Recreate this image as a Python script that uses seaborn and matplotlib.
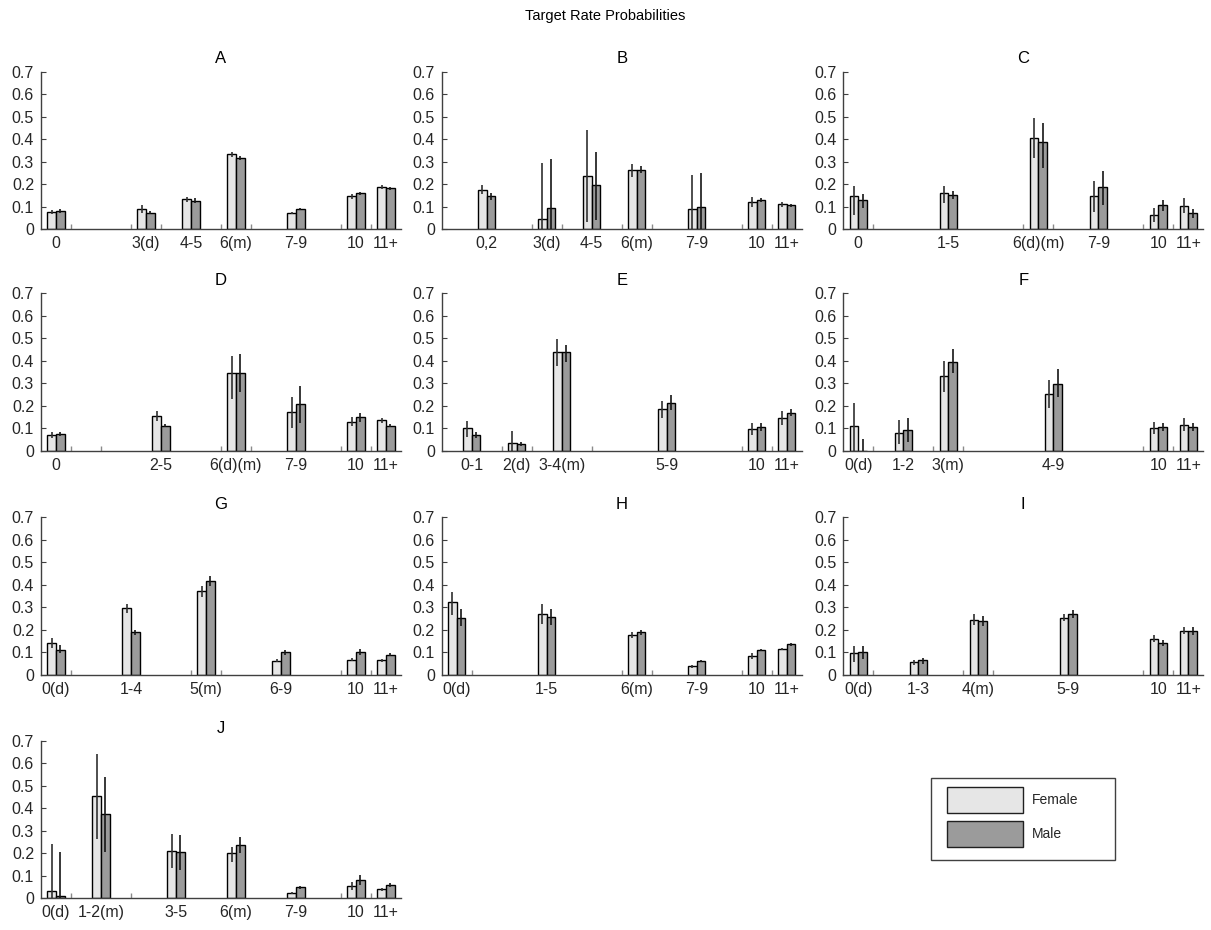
import numpy as np
import pandas as pd
import matplotlib
matplotlib.use("Agg")
import matplotlib.pyplot as plt
from matplotlib.patches import Patch, Rectangle
import seaborn as sns

# ---------------- data ----------------
panel_names = ["A", "B", "C", "D", "E", "F", "G", "H", "I", "J"]

labels_A = ["0", "3(d)", "4-5", "6(m)", "7-9", "10", "11+"]
pos_A = [0, 3, 4.5, 6, 8, 10, 11]
fem_A = [0.075, 0.089, 0.132, 0.332, 0.071, 0.145, 0.186]
fem_lo_A = [0.065, 0.072, 0.122, 0.322, 0.066, 0.135, 0.176]
fem_hi_A = [0.085, 0.106, 0.142, 0.342, 0.076, 0.155, 0.196]
male_A = [0.079, 0.073, 0.126, 0.316, 0.089, 0.158, 0.181]
male_lo_A = [0.071, 0.065, 0.116, 0.308, 0.084, 0.150, 0.173]
male_hi_A = [0.087, 0.081, 0.136, 0.324, 0.094, 0.166, 0.189]
edges_A = [0.5, 2.5, 3.5, 5.5, 6.5, 9.5, 10.5]

labels_B = ["0,2", "3(d)", "4-5", "6(m)", "7-9", "10", "11+"]
pos_B = [1, 3, 4.5, 6, 8, 10, 11]
fem_B = [0.174, 0.045, 0.237, 0.264, 0.088, 0.119, 0.110]
fem_lo_B = [0.154, 0.0, 0.033, 0.233, 0.0, 0.100, 0.098]
fem_hi_B = [0.194, 0.295, 0.440, 0.289, 0.240, 0.141, 0.122]
male_B = [0.145, 0.092, 0.194, 0.264, 0.096, 0.129, 0.105]
male_lo_B = [0.130, 0.0, 0.040, 0.248, 0.0, 0.121, 0.097]
male_hi_B = [0.160, 0.310, 0.341, 0.280, 0.250, 0.137, 0.113]
edges_B = [2.5, 3.5, 5.5, 6.5, 9.5, 10.5]

labels_C = ["0", "1-5", "6(d)(m)", "7-9", "10", "11+"]
pos_C = [0, 3, 6, 8, 10, 11]
fem_C = [0.147, 0.159, 0.407, 0.145, 0.062, 0.104]
fem_lo_C = [0.062, 0.114, 0.315, 0.074, 0.033, 0.070]
fem_hi_C = [0.193, 0.193, 0.496, 0.214, 0.092, 0.136]
male_C = [0.129, 0.153, 0.387, 0.188, 0.105, 0.071]
male_lo_C = [0.095, 0.132, 0.270, 0.108, 0.082, 0.050]
male_hi_C = [0.156, 0.171, 0.473, 0.260, 0.129, 0.090]
edges_C = [0.5, 5.5, 6.5, 9.5, 10.5]

labels_D = ["0", "2-5", "6(d)(m)", "7-9", "10", "11+"]
pos_D = [0, 3.5, 6, 8, 10, 11]
fem_D = [0.070, 0.154, 0.347, 0.171, 0.129, 0.134]
fem_lo_D = [0.058, 0.130, 0.228, 0.100, 0.111, 0.124]
fem_hi_D = [0.082, 0.174, 0.423, 0.240, 0.148, 0.144]
male_D = [0.074, 0.111, 0.347, 0.208, 0.148, 0.111]
male_lo_D = [0.066, 0.103, 0.260, 0.122, 0.129, 0.103]
male_hi_D = [0.082, 0.119, 0.430, 0.288, 0.166, 0.119]
edges_D = [0.5, 1.5, 5.5, 6.5, 9.5, 10.5]

labels_E = ["0-1", "2(d)", "3-4(m)", "5-9", "10", "11+"]
pos_E = [0.5, 2, 3.5, 7, 10, 11]
fem_E = [0.099, 0.035, 0.441, 0.185, 0.096, 0.144]
fem_lo_E = [0.062, 0.0, 0.377, 0.144, 0.070, 0.114]
fem_hi_E = [0.132, 0.085, 0.497, 0.222, 0.122, 0.174]
male_E = [0.070, 0.030, 0.441, 0.214, 0.107, 0.169]
male_lo_E = [0.058, 0.020, 0.396, 0.181, 0.085, 0.154]
male_hi_E = [0.082, 0.040, 0.470, 0.246, 0.125, 0.184]
edges_E = [1.5, 2.5, 4.5, 9.5, 10.5]

labels_F = ["0(d)", "1-2", "3(m)", "4-9", "10", "11+"]
pos_F = [0, 1.5, 3, 6.5, 10, 11]
fem_F = [0.111, 0.080, 0.334, 0.252, 0.102, 0.114]
fem_lo_F = [0.0, 0.030, 0.263, 0.188, 0.073, 0.089]
fem_hi_F = [0.214, 0.137, 0.400, 0.315, 0.129, 0.144]
male_F = [0.0, 0.092, 0.395, 0.297, 0.104, 0.104]
male_lo_F = [0.0, 0.040, 0.344, 0.240, 0.085, 0.085]
male_hi_F = [0.052, 0.144, 0.451, 0.362, 0.125, 0.122]
edges_F = [0.5, 2.5, 3.5, 9.5, 10.5]

labels_G = ["0(d)", "1-4", "5(m)", "6-9", "10", "11+"]
pos_G = [0, 2.5, 5, 7.5, 10, 11]
fem_G = [0.141, 0.297, 0.371, 0.062, 0.067, 0.064]
fem_lo_G = [0.119, 0.275, 0.346, 0.056, 0.061, 0.058]
fem_hi_G = [0.163, 0.316, 0.394, 0.068, 0.073, 0.070]
male_G = [0.111, 0.190, 0.416, 0.100, 0.101, 0.089]
male_lo_G = [0.094, 0.178, 0.394, 0.086, 0.086, 0.081]
male_hi_G = [0.131, 0.200, 0.438, 0.111, 0.116, 0.097]
edges_G = [0.5, 4.5, 5.5, 9.5, 10.5]

labels_H = ["0(d)", "1-5", "6(m)", "7-9", "10", "11+"]
pos_H = [0, 3, 6, 8, 10, 11]
fem_H = [0.321, 0.270, 0.178, 0.037, 0.082, 0.113]
fem_lo_H = [0.264, 0.227, 0.165, 0.031, 0.068, 0.108]
fem_hi_H = [0.368, 0.313, 0.190, 0.043, 0.094, 0.118]
male_H = [0.253, 0.257, 0.190, 0.061, 0.108, 0.134]
male_lo_H = [0.215, 0.220, 0.178, 0.057, 0.103, 0.129]
male_hi_H = [0.290, 0.294, 0.200, 0.065, 0.113, 0.139]
edges_H = [0.5, 5.5, 6.5, 9.5, 10.5]

labels_I = ["0(d)", "1-3", "4(m)", "5-9", "10", "11+"]
pos_I = [0, 2, 4, 7, 10, 11]
fem_I = [0.095, 0.055, 0.245, 0.254, 0.160, 0.195]
fem_lo_I = [0.056, 0.042, 0.220, 0.239, 0.146, 0.180]
fem_hi_I = [0.126, 0.067, 0.269, 0.269, 0.175, 0.212]
male_I = [0.101, 0.064, 0.238, 0.269, 0.141, 0.195]
male_lo_I = [0.071, 0.049, 0.215, 0.250, 0.126, 0.176]
male_hi_I = [0.126, 0.076, 0.260, 0.287, 0.156, 0.212]
edges_I = [0.5, 3.5, 4.5, 9.5, 10.5]

labels_J = ["0(d)", "1-2(m)", "3-5", "6(m)", "7-9", "10", "11+"]
pos_J = [0, 1.5, 4, 6, 8, 10, 11]
fem_J = [0.034, 0.455, 0.211, 0.200, 0.022, 0.055, 0.040]
fem_lo_J = [0.0, 0.263, 0.134, 0.163, 0.017, 0.037, 0.032]
fem_hi_J = [0.240, 0.641, 0.286, 0.230, 0.027, 0.074, 0.048]
male_J = [0.010, 0.374, 0.205, 0.236, 0.049, 0.082, 0.059]
male_lo_J = [0.0, 0.208, 0.126, 0.200, 0.043, 0.059, 0.051]
male_hi_J = [0.205, 0.542, 0.282, 0.274, 0.055, 0.104, 0.067]
edges_J = [0.5, 2.5, 9.5, 10.5]

sexes = ["Female", "Male"]
y_ticks = [0, 0.1, 0.2, 0.3, 0.4, 0.5, 0.6, 0.7]
suptitle = "Target Rate Probabilities"

# ---------------- style ----------------
sns.set_style("white")
plt.rcParams["font.family"] = ["Liberation Sans", "DejaVu Sans"]
TXT = "#262626"
colors = {"Female": "#e6e6e6", "Male": "#9b9b9b"}

W, H = 1211, 930
fig = plt.figure(figsize=(W / 100, H / 100), dpi=100)

col_left = [41, 441.7, 843.3]
row_top = [71.7, 293.3, 517.3, 741.0]
ax_w, ax_h = 360.0, 157.3
BAR_W = 0.58

g = globals()
for k, name in enumerate(panel_names):
    r, c = divmod(k, 3)
    ax = fig.add_axes([col_left[c] / W, 1 - (row_top[r] + ax_h) / H, ax_w / W, ax_h / H])
    labels = g["labels_" + name]
    pos = g["pos_" + name]
    fem, male = g["fem_" + name], g["male_" + name]
    df = pd.DataFrame({
        "pos": list(pos) * 2,
        "value": list(fem) + list(male),
        "sex": ["Female"] * len(pos) + ["Male"] * len(pos),
    })
    sns.barplot(data=df, x="pos", y="value", hue="sex", hue_order=sexes,
                palette=colors, native_scale=True, width=BAR_W, errorbar=None,
                edgecolor="black", linewidth=1.0, legend=False, ax=ax, zorder=2)
    # error bars
    off = BAR_W / 4
    p = np.asarray(pos, dtype=float)
    ax.vlines(p - off, g["fem_lo_" + name], g["fem_hi_" + name],
              color="#303030", lw=1.2, zorder=3)
    ax.vlines(p + off, g["male_lo_" + name], g["male_hi_" + name],
              color="#151515", lw=1.2, zorder=3)
    # bin-edge markers
    ax.vlines(g["edges_" + name], 0, 0.022, color="#8a8a8a", lw=1.0, zorder=1)

    ax.set_xlim(-0.5, 11.5)
    ax.set_ylim(0, 0.7)
    ax.set_xticks(pos)
    ax.set_xticklabels(labels)
    ax.set_yticks(y_ticks)
    ax.set_yticklabels([f"{v:g}" for v in y_ticks])
    ax.tick_params(axis="x", length=0, pad=5, labelsize=11.5, labelcolor=TXT)
    ax.tick_params(axis="y", direction="in", length=3.5, width=0.8, color="#404040",
                   pad=5, labelsize=11.5, labelcolor=TXT, left=True)
    ax.set_xlabel("")
    ax.set_ylabel("")
    for s in ["top", "right"]:
        ax.spines[s].set_visible(False)
    for s in ["left", "bottom"]:
        ax.spines[s].set_color("#404040")
        ax.spines[s].set_linewidth(1.0)
    ax.set_title(name, fontsize=12, pad=6, color="black")
    ax.set_facecolor("white")

fig.text(0.5, 1 - 16 / H, suptitle, ha="center", va="center", fontsize=10.5, color="black")

# legend
handles = [Patch(facecolor=colors[s], edgecolor="#202020", linewidth=1.0) for s in sexes]
fig.legend(handles, sexes, loc="upper left", bbox_to_anchor=(940 / W, 1 - 780 / H),
           frameon=False, borderpad=0, fontsize=10, handlelength=5.5, handleheight=2.5,
           handletextpad=0.65, labelspacing=0.6, labelcolor=TXT)
fig.patches.append(Rectangle((931 / W, 1 - 860 / H), 184 / W, 82 / H, transform=fig.transFigure,
                             fill=False, edgecolor="#404040", linewidth=1.0))

fig.savefig("out.png", dpi=100, facecolor="white")
